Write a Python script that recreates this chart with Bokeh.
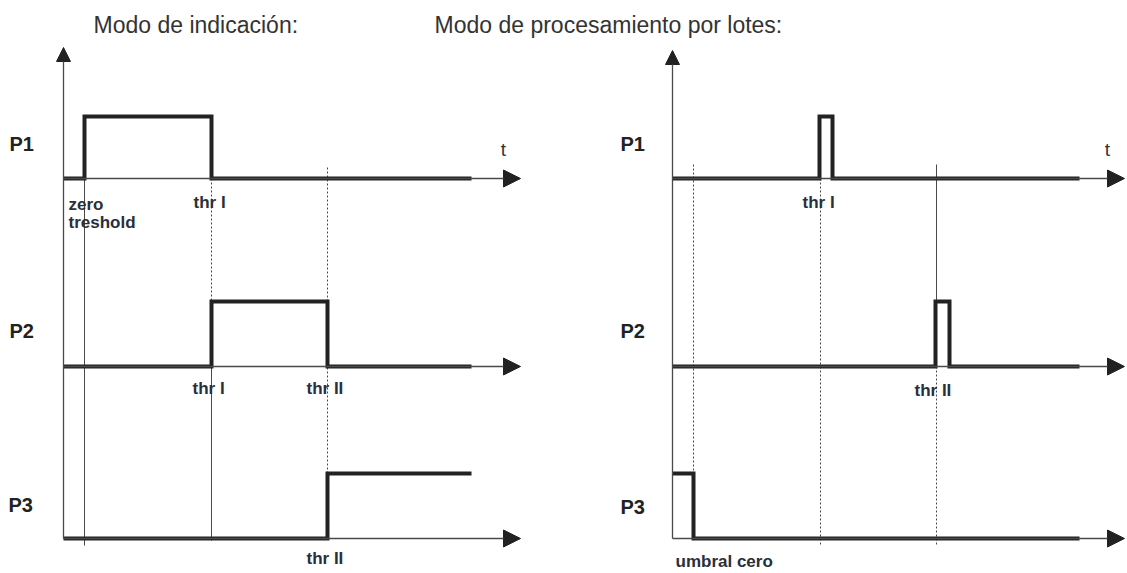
from bokeh.plotting import figure
from bokeh.models import Range1d, Arrow, NormalHead
from bokeh.core.properties import value
from bokeh.embed import file_html
from bokeh.resources import INLINE

# ---------------- data (diagram coordinates: x = time position, y = row level) -------------
titles = ["Modo de indicación:", "Modo de procesamiento por lotes:"]
row_names = ["P1", "P2", "P3"]
row_base = [178, 366, 538]          # baseline of each row
row_amp = [62, 65, 65]              # height of a "1" level in each row

# Left panel: indication mode
left_axis_x = 63
left_axis_top = 47
left_tip = 520
left_end = 471
left_zero, left_thr1, left_thr2 = 84, 211, 327
left_p1_t = [63, 84, 84, 211, 211, 471]
left_p1_v = [0, 0, 1, 1, 0, 0]
left_p2_t = [63, 211, 211, 327, 327, 471]
left_p2_v = [0, 0, 1, 1, 0, 0]
left_p3_t = [63, 327, 327, 471]
left_p3_v = [0, 0, 1, 1]

# Right panel: batch mode
right_axis_x = 672
right_axis_top = 50
right_tip = 1124
right_end = 1079
right_zero, right_thr1, right_thr2 = 693, 820, 936
right_p1_t = [672, 819, 819, 832, 832, 1079]
right_p1_v = [0, 0, 1, 1, 0, 0]
right_p2_t = [672, 935, 935, 949, 949, 1079]
right_p2_v = [0, 0, 1, 1, 0, 0]
right_p3_t = [672, 693, 693, 1079]
right_p3_v = [1, 1, 0, 0]

INK = "#222222"
THIN = "#4a4a4a"
FONT = value("Liberation Sans")

p = figure(width=1127, height=573, x_range=Range1d(0, 1127), y_range=Range1d(573, 0),
           output_backend="svg", toolbar_location=None, min_border=0)
p.axis.visible = False
p.xgrid.visible = False
p.ygrid.visible = False
p.outline_line_color = None
p.background_fill_color = "white"

def lvl_to_y(row, vals):
    return [row_base[row] - v * row_amp[row] for v in vals]

# ---- thin vertical guide lines ----
solid_x0, solid_y0, solid_y1 = [], [], []
dash_x0, dash_y0, dash_y1 = [], [], []
def solid(x, y0, y1):
    solid_x0.append(x); solid_y0.append(y0); solid_y1.append(y1)
def dashed(x, y0, y1):
    dash_x0.append(x); dash_y0.append(y0); dash_y1.append(y1)

# left
solid(left_zero, row_base[0], 545)
dashed(left_thr1, row_base[0], row_base[1] - row_amp[1])
solid(left_thr1, row_base[1] - row_amp[1], row_base[2] + 2)
dashed(left_thr2, 167, row_base[2] - row_amp[2])
# right
dashed(right_zero, 164, row_base[2])
dashed(right_thr1, row_base[0], 545)
solid(right_thr2, 164, row_base[1] - row_amp[1])
dashed(right_thr2, row_base[1], 545)

p.segment(x0=solid_x0, y0=solid_y0, x1=solid_x0, y1=solid_y1, line_color=THIN, line_width=1)
p.segment(x0=dash_x0, y0=dash_y0, x1=dash_x0, y1=dash_y1, line_color=THIN, line_width=1,
          line_dash="2 2")

# ---- axes with arrows ----
for ax_x, ax_top, tip in [(left_axis_x, left_axis_top, left_tip),
                          (right_axis_x, right_axis_top, right_tip)]:
    p.add_layout(Arrow(x_start=ax_x, y_start=row_base[2], x_end=ax_x, y_end=ax_top,
                       line_color=THIN, line_width=1.3,
                       end=NormalHead(size=14, fill_color=INK, line_color=INK)))
    for r in range(3):
        p.add_layout(Arrow(x_start=ax_x, y_start=row_base[r], x_end=tip, y_end=row_base[r],
                           line_color=THIN, line_width=1.3,
                           end=NormalHead(size=17, fill_color=INK, line_color=INK)))

# ---- signals (thick) ----
signals = [
    (left_p1_t, left_p1_v, 0), (left_p2_t, left_p2_v, 1), (left_p3_t, left_p3_v, 2),
    (right_p1_t, right_p1_v, 0), (right_p2_t, right_p2_v, 1), (right_p3_t, right_p3_v, 2),
]
for t, v, r in signals:
    p.line(x=t, y=lvl_to_y(r, v), line_color=INK, line_width=4, line_join="miter")

# ---- texts ----
p.text(x=[93, 434], y=[24, 24], text=titles, text_font=FONT, text_font_size="23px",
       text_color="#333333", text_baseline="middle", text_align="left")

lab_x = [9, 9, 8, 620, 620, 620]
lab_y = [143, 330, 504, 143, 330, 506]
p.text(x=lab_x, y=lab_y, text=row_names * 2, text_font=FONT, text_font_size="20px",
       text_font_style="bold", text_color=INK, text_baseline="middle", text_align="left")

p.text(x=[503, 1107], y=[149, 149], text=["t", "t"], text_font=FONT, text_font_size="19px",
       text_color="#333333", text_baseline="middle", text_align="center")

ann_text = ["zero", "treshold", "thr I", "thr I", "thr II", "thr II",
            "thr I", "thr II", "umbral cero"]
ann_x = [68, 68, 193, 192, 306, 306, 802, 914, 675]
ann_y = [204, 222, 202, 388, 388, 558, 202, 390, 561]
p.text(x=ann_x, y=ann_y, text=ann_text, text_font=FONT, text_font_size="17px",
       text_font_style="bold", text_color="#2a2f3a", text_baseline="middle",
       text_align="left")

open("out.html", "w").write(file_html(p, INLINE))
